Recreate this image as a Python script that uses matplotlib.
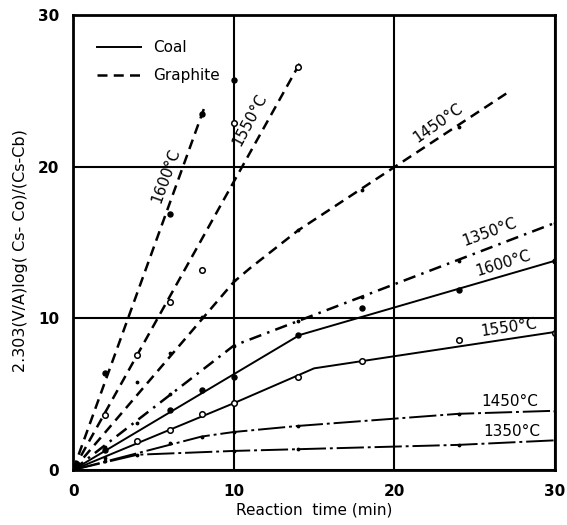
import matplotlib
matplotlib.use("Agg")
import matplotlib.pyplot as plt
from matplotlib.lines import Line2D

# ---- data (x: min, y: 2.303(V/A)log(...)) ----
# graphite
g1600_line_x = [0, 8.2]
g1600_line_y = [0, 24.0]
g1600_pts_x = [2, 6, 8, 10]
g1600_pts_y = [6.4, 16.9, 23.5, 25.7]

g1550_line_x = [0, 14.2]
g1550_line_y = [0, 27.0]
g1550_pts_x = [2, 4, 6, 8, 10, 14]
g1550_pts_y = [3.6, 7.6, 11.1, 13.2, 22.9, 26.6]

g1450_line_x = [0, 10, 11, 14, 27.2]
g1450_line_y = [0, 12.4, 13.3, 15.8, 25.0]
g1450_pts_x = [4, 6, 8, 10, 14, 18, 24]
g1450_pts_y = [5.8, 7.7, 10.1, 12.5, 15.8, 18.5, 22.6]

g1350_line_x = [0, 10, 30]
g1350_line_y = [0, 8.2, 16.3]
g1350_pts_x = [2, 4, 6, 10, 14, 18, 24, 30]
g1350_pts_y = [1.5, 3.1, 5.0, 8.2, 9.8, 11.4, 13.8, 16.3]

# coal
c1600_line_x = [0, 14.1, 30]
c1600_line_y = [0, 8.9, 13.8]
c1600_pts_x = [2, 6, 8, 10, 14, 18, 24, 30]
c1600_pts_y = [1.3, 3.95, 5.26, 6.1, 8.9, 10.7, 11.9, 13.8]

c1550_line_x = [0, 10, 15, 30]
c1550_line_y = [0, 4.4, 6.7, 9.1]
c1550_pts_x = [4, 6, 8, 10, 14, 18, 24, 30]
c1550_pts_y = [1.9, 2.6, 3.7, 4.4, 6.1, 7.2, 8.6, 9.0]

c1450_line_x = [0, 8, 10, 14, 24, 30]
c1450_line_y = [0, 2.2, 2.5, 2.9, 3.7, 3.9]
c1450_pts_x = [2, 6, 8, 10, 14, 24, 30]
c1450_pts_y = [0.8, 1.75, 2.2, 2.5, 2.9, 3.7, 3.9]

c1350_line_x = [0, 4, 10, 24, 30]
c1350_line_y = [0, 1.0, 1.25, 1.65, 1.95]
c1350_pts_x = [2, 4, 10, 14, 24, 30]
c1350_pts_y = [0.6, 1.0, 1.25, 1.4, 1.65, 1.95]

ticks = [0, 10, 20, 30]

fig = plt.figure(figsize=(5.67, 5.25), dpi=100)
ax = fig.add_axes([0.129, 0.105, 0.850, 0.866])

dash = (0, (4, 2.5))
dashdot = (0, (5, 2.5, 1, 2.5))
longdashdot = (0, (14, 2, 1.5, 2))

filled = dict(color="k", ms=3.6, ls="none", marker="o")
hollow = dict(mfc="white", mec="k", mew=1.1, ms=4, ls="none", marker="o")
small = dict(color="k", ms=3.5, ls="none", marker=".")

# graphite lines
ax.plot(g1600_line_x, g1600_line_y, color="k", lw=1.8, ls=dash)
ax.plot(g1600_pts_x, g1600_pts_y, **filled)
ax.plot(g1550_line_x, g1550_line_y, color="k", lw=1.8, ls=dash)
ax.plot(g1550_pts_x, g1550_pts_y, **hollow)
ax.plot(g1450_line_x, g1450_line_y, color="k", lw=1.8, ls=dash)
ax.plot(g1450_pts_x, g1450_pts_y, **small)
ax.plot(g1350_line_x, g1350_line_y, color="k", lw=1.8, ls=dashdot)
ax.plot(g1350_pts_x, g1350_pts_y, **small)

# coal lines
ax.plot(c1600_line_x, c1600_line_y, color="k", lw=1.4)
ax.plot(c1600_pts_x, c1600_pts_y, **filled)
ax.plot(c1550_line_x, c1550_line_y, color="k", lw=1.4)
ax.plot(c1550_pts_x, c1550_pts_y, **hollow)
ax.plot(c1450_line_x, c1450_line_y, color="k", lw=1.4, ls=longdashdot)
ax.plot(c1450_pts_x, c1450_pts_y, **small)
ax.plot(c1350_line_x, c1350_line_y, color="k", lw=1.4, ls=longdashdot)
ax.plot(c1350_pts_x, c1350_pts_y, **small)

# temperature labels
lab = dict(fontsize=11, color="k", ha="center", va="center")
ax.text(5.8, 19.4, "1600°C", rotation=70, **lab)
ax.text(11.0, 23.1, "1550°C", rotation=62, **lab)
ax.text(22.7, 22.9, "1450°C", rotation=35, **lab)
ax.text(25.9, 15.7, "1350°C", rotation=20, **lab)
ax.text(26.8, 13.6, "1600°C", rotation=17, **lab)
ax.text(27.1, 9.4, "1550°C", rotation=8, **lab)
ax.text(27.2, 4.5, "1450°C", rotation=0, **lab)
ax.text(27.3, 2.55, "1350°C", rotation=0, **lab)

ax.set_xlim(0, 30)
ax.set_ylim(0, 30)
ax.set_xticks(ticks)
ax.set_yticks(ticks)
ax.tick_params(length=0, pad=10, labelsize=11)
for t in ax.get_xticklabels() + ax.get_yticklabels():
    t.set_fontweight("bold")
ax.grid(True, color="k", lw=1.5)
for s in ax.spines.values():
    s.set_linewidth(2)

ax.set_xlabel("Reaction  time (min)", fontsize=11, labelpad=3)
ax.set_ylabel("2.303(V/A)log( Cs- Co)/(Cs-Cb)", fontsize=11.5)
ax.yaxis.set_label_coords(-0.093, 0.482)

handles = [Line2D([], [], color="k", lw=1.4),
           Line2D([], [], color="k", lw=1.8, ls=dash)]
ax.legend(handles, ["Coal", "Graphite"], loc="upper left", frameon=False,
          bbox_to_anchor=(0.02, 0.975), fontsize=11, handlelength=2.9,
          labelspacing=0.85)

fig.savefig("out.png", dpi=100)
